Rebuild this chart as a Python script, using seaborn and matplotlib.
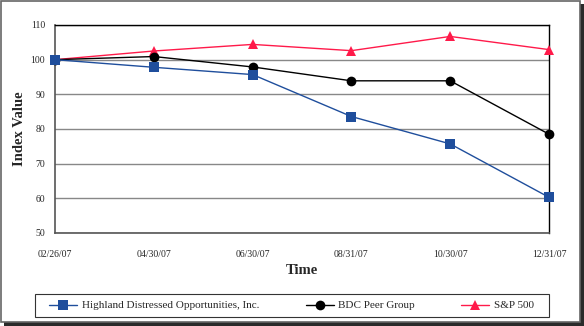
import matplotlib
matplotlib.use("Agg")
import matplotlib.pyplot as plt
import seaborn as sns
import pandas as pd
from matplotlib.patches import Rectangle
from matplotlib.lines import Line2D

dates = ["02/26/07", "04/30/07", "06/30/07", "08/31/07", "10/30/07", "12/31/07"]
highland = [100.0, 97.8, 95.7, 83.6, 75.7, 60.3]
bdc = [100.0, 100.9, 97.9, 93.9, 93.9, 78.5]
sp500 = [100.0, 102.5, 104.4, 102.6, 106.7, 102.9]
series_names = ["Highland Distressed Opportunities, Inc.", "BDC Peer Group", "S&P 500"]
colors = ["#1f4e9c", "#000000", "#ff1a4a"]
markers = ["s", "o", "^"]
yticks = [50, 60, 70, 80, 90, 100, 110]

rows = []
for name, vals in zip(series_names, [highland, bdc, sp500]):
    for i, v in enumerate(vals):
        rows.append({"pos": i, "value": v, "series": name})
df = pd.DataFrame(rows)

sns.set_theme(style="white")
plt.rcParams["font.family"] = ["Liberation Serif", "DejaVu Serif"]

fig = plt.figure(figsize=(5.84, 3.26), dpi=100)
ax = fig.add_axes([55/584, 1 - 233/326, (549-55)/584, (233-25)/326])

sns.lineplot(data=df, x="pos", y="value", hue="series", style="series",
             hue_order=series_names, style_order=series_names,
             palette=colors, markers=markers, dashes=False,
             markersize=7, linewidth=1.0, markeredgewidth=0, ax=ax, legend=False)
n = len(ax.lines)
for i, ln in enumerate(ax.lines):
    ln.set_clip_on(False)
    ln.set_zorder(3 + (n - i))

ax.set_xlim(0, 5)
ax.set_ylim(50, 110)
ax.set_yticks(yticks)
ax.set_yticklabels([str(t) for t in yticks], fontsize=7)
ax.set_xticks(range(len(dates)))
ax.set_xticklabels(dates, fontsize=7)
ax.tick_params(axis="y", direction="out", length=3, width=0.8, color="#555555", pad=4)
ax.tick_params(axis="x", direction="inout", length=5, width=0.8, color="#555555", pad=10)
ax.yaxis.grid(True, color="#888888", linewidth=1.0)
ax.set_axisbelow(True)
for s in ["top", "right"]:
    ax.spines[s].set_color("black")
    ax.spines[s].set_linewidth(1.0)
for s in ["left", "bottom"]:
    ax.spines[s].set_color("#555555")
    ax.spines[s].set_linewidth(1.2)
ax.set_xlabel("Time", fontsize=10.5, fontweight="bold", labelpad=3)
ax.set_ylabel("Index Value", fontsize=10.5, fontweight="bold", labelpad=3)

handles = []
for name, c, m in zip(series_names, colors, markers):
    handles.append(Line2D([], [], color=c, marker=m, markersize=7, linewidth=1.0,
                          markeredgewidth=0, label=name))
leg = fig.legend(handles=handles, loc="center", ncol=3,
                 bbox_to_anchor=(291.5/584, 1 - 305.5/326),
                 fontsize=8, frameon=False,
                 handlelength=2.5, handletextpad=0.4, columnspacing=4.2, borderpad=0.0)

fig.patches.append(Rectangle((35/584, 1 - 317/326), 514/584, 23/326, transform=fig.transFigure,
                             facecolor="none", edgecolor="#333333", linewidth=0.8))
# shadow
fig.patches.append(Rectangle((580/584, 0), 4/584, 322/326, transform=fig.transFigure,
                             facecolor="#2a2a2a", edgecolor="none", zorder=-1))
fig.patches.append(Rectangle((4/584, 0), 580/584, 4/326, transform=fig.transFigure,
                             facecolor="#2a2a2a", edgecolor="none", zorder=-1))
# frame
fig.patches.append(Rectangle((1/584, 4/326), 579/584, 321.5/326, transform=fig.transFigure,
                             facecolor="white", edgecolor="#666666", linewidth=1.2, zorder=-1))

fig.savefig("out.png", dpi=100)
